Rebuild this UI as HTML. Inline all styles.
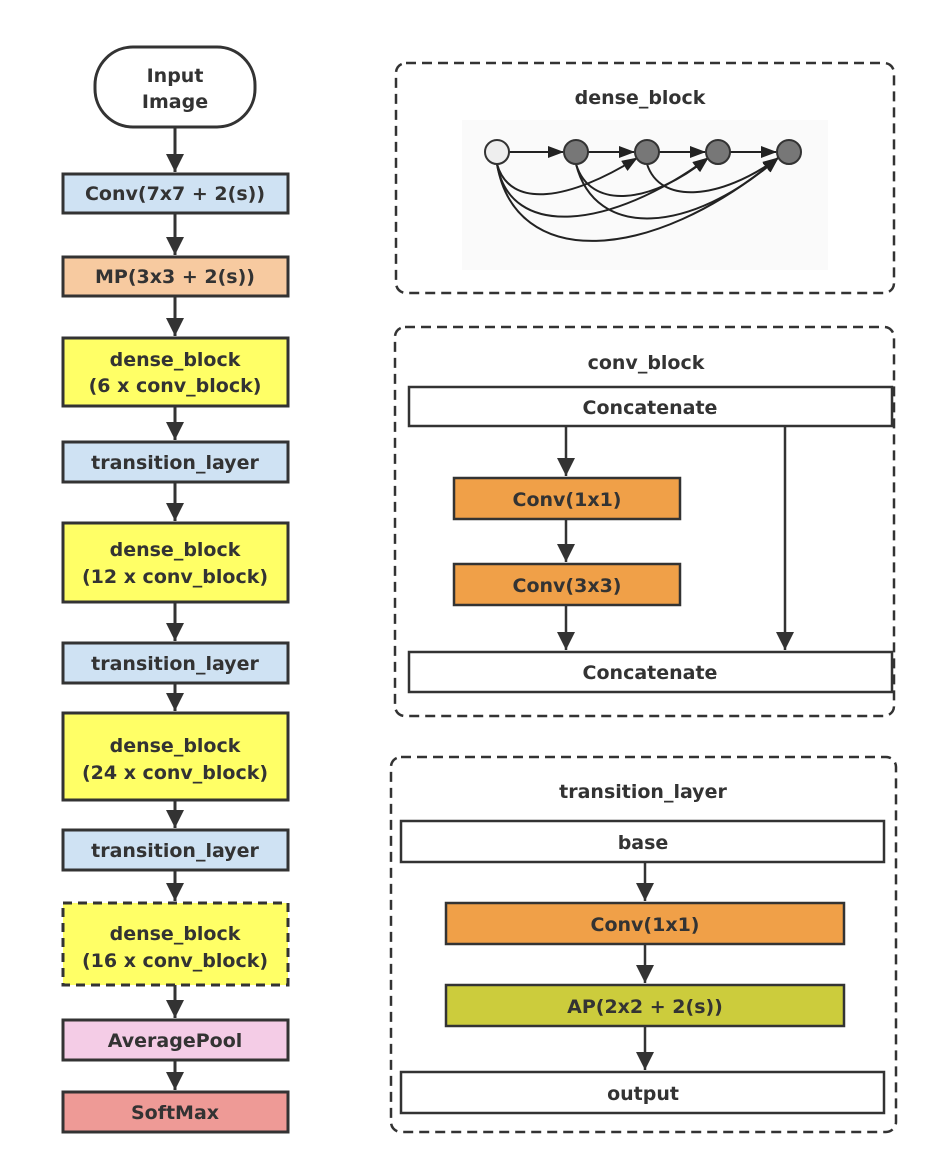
<!DOCTYPE html>
<html><head><meta charset="utf-8"><style>
html,body{margin:0;padding:0;background:#fff;}
text{font-family:"DejaVu Sans","Liberation Sans",sans-serif;font-weight:bold;fill:#333;text-anchor:middle;}
</style></head><body>
<svg width="946" height="1162" viewBox="0 0 946 1162" xmlns="http://www.w3.org/2000/svg">
<defs>
<marker id="a" markerWidth="16" markerHeight="12" refX="15" refY="6" orient="auto" markerUnits="userSpaceOnUse"><path d="M0,0 L16,6 L0,12 z" fill="#222"/></marker>
<marker id="b" markerWidth="18" markerHeight="20" refX="18" refY="10" orient="auto" markerUnits="userSpaceOnUse"><path d="M0,1 L18,10 L0,19 z" fill="#333"/></marker>
</defs>
<g stroke="#333" stroke-width="3">
<line x1="175" y1="127" x2="175" y2="172" marker-end="url(#b)"/>
<line x1="175" y1="213" x2="175" y2="255" marker-end="url(#b)"/>
<line x1="175" y1="296" x2="175" y2="336" marker-end="url(#b)"/>
<line x1="175" y1="406" x2="175" y2="440" marker-end="url(#b)"/>
<line x1="175" y1="482" x2="175" y2="521" marker-end="url(#b)"/>
<line x1="175" y1="602" x2="175" y2="641" marker-end="url(#b)"/>
<line x1="175" y1="683" x2="175" y2="711" marker-end="url(#b)"/>
<line x1="175" y1="800" x2="175" y2="828" marker-end="url(#b)"/>
<line x1="175" y1="870" x2="175" y2="901" marker-end="url(#b)"/>
<line x1="175" y1="985" x2="175" y2="1018" marker-end="url(#b)"/>
<line x1="175" y1="1060" x2="175" y2="1090" marker-end="url(#b)"/>
</g>
<g stroke="#333" stroke-width="3">
<rect x="95" y="47" width="160" height="80" rx="38" fill="#fff"/>
<rect x="63" y="174" width="225" height="39" fill="#cfe2f3"/>
<rect x="63" y="257" width="225" height="39" fill="#f7caa0"/>
<rect x="63" y="338" width="225" height="68" fill="#ffff66"/>
<rect x="63" y="442" width="225" height="40" fill="#cfe2f3"/>
<rect x="63" y="523" width="225" height="79" fill="#ffff66"/>
<rect x="63" y="643" width="225" height="40" fill="#cfe2f3"/>
<rect x="63" y="713" width="225" height="87" fill="#ffff66"/>
<rect x="63" y="830" width="225" height="40" fill="#cfe2f3"/>
<rect x="63" y="903" width="225" height="82" fill="#ffff66" stroke-dasharray="9,6"/>
<rect x="63" y="1020" width="225" height="40" fill="#f4cce6"/>
<rect x="63" y="1092" width="225" height="40" fill="#ee9a96"/>
</g>
<g font-size="19">
<text x="175" y="82">Input</text><text x="175" y="108">Image</text>
<text x="175" y="200">Conv(7x7 + 2(s))</text>
<text x="175" y="283">MP(3x3 + 2(s))</text>
<text x="175" y="366">dense_block</text><text x="175" y="392">(6 x conv_block)</text>
<text x="175" y="469">transition_layer</text>
<text x="175" y="556">dense_block</text><text x="175" y="583">(12 x conv_block)</text>
<text x="175" y="670">transition_layer</text>
<text x="175" y="752">dense_block</text><text x="175" y="779">(24 x conv_block)</text>
<text x="175" y="857">transition_layer</text>
<text x="175" y="940">dense_block</text><text x="175" y="967">(16 x conv_block)</text>
<text x="175" y="1047">AveragePool</text>
<text x="175" y="1119">SoftMax</text>
</g>
<rect x="462" y="120" width="366" height="150" fill="#fafafa"/>
<g fill="none" stroke="#333" stroke-width="2.5" stroke-dasharray="10,6">
<rect x="396" y="63" width="498" height="230" rx="10"/>
<rect x="395" y="327" width="499" height="389" rx="10"/>
<rect x="391" y="757" width="505" height="375" rx="10"/>
</g>
<g font-size="19">
<text x="640" y="104">dense_block</text>
<text x="646" y="369">conv_block</text>
<text x="643" y="798">transition_layer</text>
</g>
<g fill="none" stroke="#222" stroke-width="2">
<line x1="509" y1="152" x2="563" y2="152" marker-end="url(#a)"/>
<line x1="588" y1="152" x2="634" y2="152" marker-end="url(#a)"/>
<line x1="659" y1="152" x2="705" y2="152" marker-end="url(#a)"/>
<line x1="730" y1="152" x2="776" y2="152" marker-end="url(#a)"/>
<path d="M497,164 C510,210 570,200 637,158" marker-end="url(#a)"/>
<path d="M497,164 C510,240 610,230 708,158" marker-end="url(#a)"/>
<path d="M497,164 C515,270 650,265 778,158" marker-end="url(#a)"/>
<path d="M576,164 C590,210 650,205 708,158" marker-end="url(#a)"/>
<path d="M576,164 C595,240 690,235 778,158" marker-end="url(#a)"/>
<path d="M647,164 C660,205 720,200 778,158" marker-end="url(#a)"/>
</g>
<g stroke="#333" stroke-width="2">
<circle cx="497" cy="152" r="12" fill="#eee"/>
<circle cx="576" cy="152" r="12" fill="#777"/>
<circle cx="647" cy="152" r="12" fill="#777"/>
<circle cx="718" cy="152" r="12" fill="#777"/>
<circle cx="789" cy="152" r="12" fill="#777"/>
</g>
<g stroke="#333" stroke-width="2.5">
<line x1="566" y1="426" x2="566" y2="476" marker-end="url(#b)"/>
<line x1="566" y1="519" x2="566" y2="562" marker-end="url(#b)"/>
<line x1="566" y1="605" x2="566" y2="650" marker-end="url(#b)"/>
<line x1="785" y1="426" x2="785" y2="650" marker-end="url(#b)"/>
<rect x="409" y="387" width="483" height="39" fill="#fff"/>
<rect x="454" y="478" width="226" height="41" fill="#f0a048"/>
<rect x="454" y="564" width="226" height="41" fill="#f0a048"/>
<rect x="409" y="652" width="483" height="40" fill="#fff"/>
</g>
<g font-size="19">
<text x="650" y="414">Concatenate</text>
<text x="567" y="506">Conv(1x1)</text>
<text x="567" y="592">Conv(3x3)</text>
<text x="650" y="679">Concatenate</text>
</g>
<g stroke="#333" stroke-width="2.5">
<line x1="645" y1="862" x2="645" y2="901" marker-end="url(#b)"/>
<line x1="645" y1="944" x2="645" y2="983" marker-end="url(#b)"/>
<line x1="645" y1="1026" x2="645" y2="1070" marker-end="url(#b)"/>
<rect x="401" y="821" width="483" height="41" fill="#fff"/>
<rect x="446" y="903" width="398" height="41" fill="#f0a048"/>
<rect x="446" y="985" width="398" height="41" fill="#cccc3c"/>
<rect x="401" y="1072" width="483" height="41" fill="#fff"/>
</g>
<g font-size="19">
<text x="643" y="849">base</text>
<text x="645" y="931">Conv(1x1)</text>
<text x="645" y="1013">AP(2x2 + 2(s))</text>
<text x="643" y="1100">output</text>
</g>
</svg>
</body></html>
